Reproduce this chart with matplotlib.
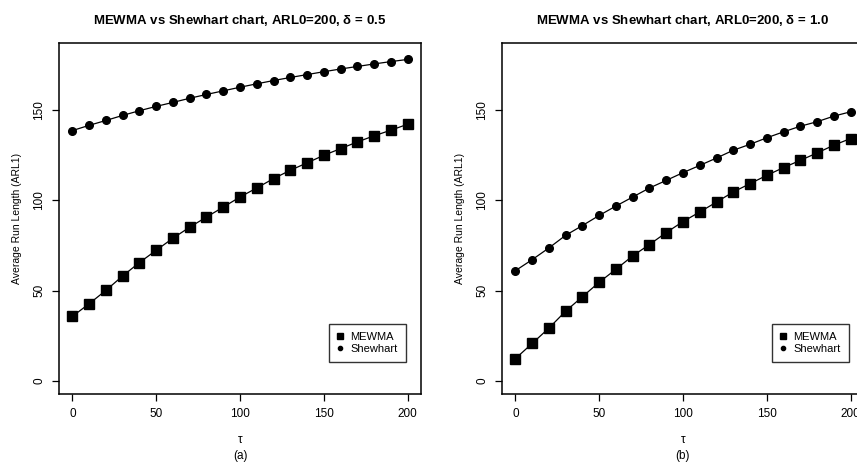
import numpy as np
import matplotlib
matplotlib.use("Agg")
import matplotlib.pyplot as plt

plt.rcParams['font.family'] = ['Liberation Sans', 'DejaVu Sans']

# tau values (change point)
tau = list(range(0, 201, 10))

# panel (a): delta = 0.5
mewma_a = [35.8, 42.8, 50.2, 58.2, 65.6, 72.4, 79.1, 85.2, 90.8, 96.3, 101.9,
           106.9, 112.1, 116.7, 120.8, 125.0, 128.7, 132.4, 135.8, 138.9, 142.2]
shew_a = [138.7, 141.6, 144.3, 147.1, 149.7, 152.1, 154.3, 156.6, 158.7, 160.7, 162.7,
          164.6, 166.4, 168.1, 169.7, 171.3, 172.8, 174.2, 175.6, 176.9, 178.1]

# panel (b): delta = 1.0
mewma_b = [12.4, 20.8, 29.3, 38.7, 46.7, 54.7, 61.9, 69.3, 75.6, 82.2, 88.3,
           93.6, 99.1, 104.7, 109.3, 113.9, 118.2, 122.2, 126.3, 130.6, 134.3]
shew_b = [61.1, 67.2, 73.7, 80.7, 86.1, 91.7, 96.9, 101.9, 106.9, 111.1, 115.4,
          119.4, 123.5, 127.8, 131.1, 134.7, 138.0, 141.1, 143.6, 146.7, 149.1]

titles = ['MEWMA vs Shewhart chart, ARL0=200, $\\mathregular{\\delta}$ = 0.5',
          'MEWMA vs Shewhart chart, ARL0=200, $\\mathregular{\\delta}$ = 1.0']
sublabels = ['(a)', '(b)']

fig = plt.figure(figsize=(8.57, 4.63), dpi=100)
W, H = 857, 463
boxes = [(59, 421), (502, 864)]
top, bottom = 43, 394

panels = [(mewma_a, shew_a), (mewma_b, shew_b)]
for i, (m, s) in enumerate(panels):
    x0, x1 = boxes[i]
    ax = fig.add_axes([x0 / W, 1 - bottom / H, (x1 - x0) / W, (bottom - top) / H])
    ax.plot(tau, m, color='black', lw=0.9, marker='s', ms=7, mfc='black',
            mec='black', label='MEWMA')
    ax.plot(tau, s, color='black', lw=0.9, marker='o', ms=5.5, mfc='black',
            mec='black', label='Shewhart')
    ax.set_xlim(-8, 208)
    ax.set_ylim(-7.2, 187.2)
    ax.set_xticks([0, 50, 100, 150, 200])
    ax.set_yticks([0, 50, 100, 150])
    ax.tick_params(direction='out', length=5, width=0.9, labelsize=8.5, pad=5)
    for lab in ax.get_yticklabels():
        lab.set_rotation(90)
        lab.set_va('center')
    for sp in ax.spines.values():
        sp.set_linewidth(1.1)
    ax.set_title(titles[i], fontsize=9.5, fontweight='bold', pad=14)
    ax.set_ylabel('Average Run Length (ARL1)', fontsize=7.5, labelpad=8)
    ax.set_xlabel('$\\mathregular{\\tau}$\n' + sublabels[i], fontsize=8.5, labelpad=10,
                  linespacing=1.45)
    leg = ax.legend(loc='lower right', bbox_to_anchor=(0.974, 0.074), fontsize=8,
                    frameon=True, fancybox=False, edgecolor='black',
                    handlelength=0.6, handletextpad=0.6, borderpad=0.75,
                    labelspacing=0.2, markerscale=0.55)
    leg.get_frame().set_linewidth(1.0)
    for h in leg.legend_handles:
        h.set_linestyle('none')

fig.savefig('out.png', dpi=100)
